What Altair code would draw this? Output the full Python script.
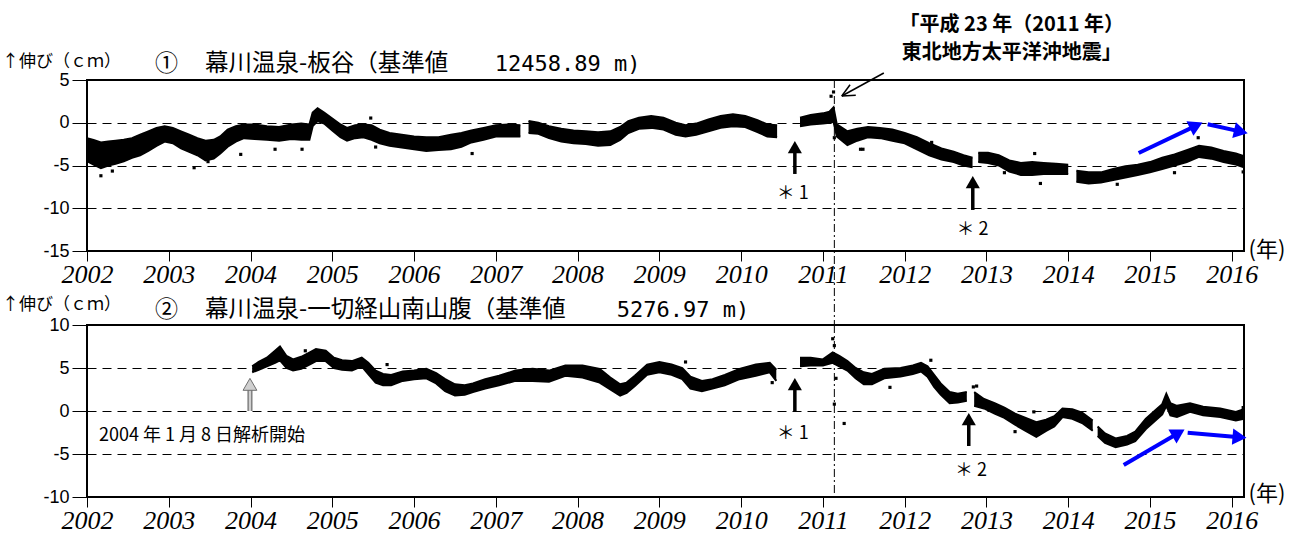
import altair as alt
import pandas as pd

# ---------------- panel 1 : 幕川温泉-板谷 (cm) ----------------
p1_t = [2002.00, 2002.08, 2002.17, 2002.26, 2002.35, 2002.45, 2002.55, 2002.65, 2002.75, 2002.85,
        2002.95, 2003.05, 2003.15, 2003.25, 2003.35, 2003.45, 2003.55, 2003.63, 2003.72, 2003.82,
        2003.92, 2004.05, 2004.20, 2004.35, 2004.50, 2004.62, 2004.72, 2004.76, 2004.82, 2004.90,
        2005.00, 2005.10, 2005.18, 2005.28, 2005.38, 2005.48, 2005.58, 2005.70, 2005.85, 2006.00,
        2006.15, 2006.30, 2006.45, 2006.58, 2006.70, 2006.85, 2007.00, 2007.15, 2007.30,
        2007.40, 2007.52, 2007.65, 2007.80, 2007.95, 2008.10, 2008.25, 2008.40, 2008.52, 2008.62,
        2008.75, 2008.90, 2009.05, 2009.20, 2009.32, 2009.45, 2009.60, 2009.75, 2009.90, 2010.05,
        2010.20, 2010.32, 2010.44,
        2010.72, 2010.85, 2011.00, 2011.08, 2011.13, 2011.17, 2011.30, 2011.42, 2011.55, 2011.70,
        2011.85, 2012.00, 2012.15, 2012.30, 2012.45, 2012.60, 2012.72, 2012.83,
        2012.90, 2013.02, 2013.15, 2013.28, 2013.42, 2013.56, 2013.70, 2013.85, 2014.00,
        2014.10, 2014.25, 2014.40, 2014.55, 2014.70, 2014.85, 2015.00, 2015.15, 2015.30, 2015.45,
        2015.60, 2015.75, 2015.90, 2016.05, 2016.15]
p1_hi = [-1.8, -2.0, -2.3, -2.2, -2.1, -2.0, -1.8, -1.4, -1.0, -0.6,
         -0.4, -0.6, -1.0, -1.4, -1.8, -2.1, -2.0, -1.6, -0.8, -0.4,
         -0.2, -0.2, -0.4, -0.5, -0.2, -0.1, -0.2, 1.2, 1.7, 1.2,
         0.5, -0.2, -0.6, -0.3, -0.2, -0.3, -0.8, -1.2, -1.4, -1.6,
         -1.7, -1.7, -1.4, -1.2, -0.9, -0.6, -0.3, -0.2, -0.3,
         0.2, 0.0, -0.4, -0.7, -0.9, -1.0, -1.1, -1.0, -0.5, 0.2,
         0.6, 0.8, 0.6, 0.0, -0.3, -0.1, 0.4, 0.8, 1.0, 0.8,
         0.3, -0.2, -0.3,
         0.6, 0.9, 1.1, 1.3, 1.8, -0.2, -1.0, -0.7, -0.5, -0.6,
         -0.8, -1.2, -1.7, -2.4, -3.0, -3.4, -3.8, -4.1,
         -3.5, -3.5, -3.8, -4.4, -4.7, -4.6, -4.7, -4.8, -4.9,
         -5.6, -5.8, -5.8, -5.4, -5.1, -4.9, -4.6, -4.1, -3.7, -3.2,
         -2.7, -2.9, -3.3, -3.6, -3.9]
p1_lo = [-4.5, -4.9, -5.3, -5.0, -4.8, -4.5, -4.1, -3.8, -3.3, -2.7,
         -2.2, -2.4, -3.0, -3.4, -3.8, -4.4, -4.2, -3.6, -2.8, -2.2,
         -1.8, -1.9, -2.0, -2.1, -1.9, -2.0, -2.0, -0.4, 0.2, -0.1,
         -0.9, -1.7, -2.1, -1.8, -1.7, -2.0, -2.4, -2.7, -2.9, -3.1,
         -3.3, -3.2, -3.1, -2.8, -2.3, -2.0, -1.6, -1.6, -1.6,
         -1.2, -1.3, -1.8, -2.2, -2.4, -2.5, -2.7, -2.6, -2.0, -1.2,
         -0.7, -0.6, -0.8, -1.4, -1.6, -1.4, -1.0, -0.6, -0.4, -0.5,
         -1.1, -1.6, -1.7,
         -0.4, -0.2, -0.1, 0.0, 0.1, -1.6, -2.6, -2.1, -1.7, -1.8,
         -2.1, -2.4, -3.1, -3.8, -4.3, -4.6, -5.0, -5.2,
         -4.6, -4.7, -5.0, -5.7, -6.1, -6.1, -6.0, -6.0, -6.0,
         -6.9, -7.1, -7.0, -6.7, -6.4, -6.1, -5.8, -5.4, -5.0, -4.6,
         -4.0, -4.2, -4.6, -4.9, -5.2]
p1_gaps = [2007.35, 2010.58, 2012.86, 2014.05]
p1_out_t = [2002.17, 2002.31, 2003.31, 2003.48, 2003.88, 2004.30, 2004.63, 2005.47, 2005.53,
            2006.71, 2011.10, 2011.13, 2011.14, 2011.49, 2011.46, 2012.33, 2013.22, 2013.66,
            2013.59, 2014.60, 2015.30, 2015.59, 2016.14]
p1_out_v = [-6.2, -5.65, -5.26, -4.55, -3.7, -3.1, -3.1, 0.55, -2.84,
            -3.6, 3.1, 3.6, -1.75, -3.1, -3.1, -2.3, -5.84, -7.1,
            -3.6, -7.2, -5.84, -1.75, -5.75]

# ---------------- panel 2 : 幕川温泉-一切経山南山腹 (cm) ----------------
p2_t = [2004.02, 2004.10, 2004.20, 2004.30, 2004.36, 2004.44, 2004.52, 2004.62, 2004.72, 2004.80,
        2004.92, 2005.02, 2005.12, 2005.24, 2005.36, 2005.44, 2005.53, 2005.62, 2005.72, 2005.86,
        2006.00, 2006.15, 2006.27, 2006.38, 2006.50, 2006.62, 2006.72, 2006.87, 2007.04, 2007.24,
        2007.45, 2007.65, 2007.85, 2008.06, 2008.27, 2008.40, 2008.52, 2008.60, 2008.70, 2008.85,
        2009.00, 2009.15, 2009.28, 2009.38, 2009.52, 2009.65, 2009.80, 2009.98, 2010.18, 2010.35,
        2010.43,
        2010.72, 2010.85, 2011.00, 2011.12, 2011.20, 2011.30, 2011.40, 2011.50, 2011.60, 2011.75,
        2011.95, 2012.10, 2012.20, 2012.28, 2012.36, 2012.44, 2012.55, 2012.65, 2012.76,
        2012.85, 2012.97, 2013.10, 2013.22, 2013.35, 2013.48, 2013.61, 2013.73, 2013.83, 2013.93,
        2014.05, 2014.17, 2014.30,
        2014.36, 2014.45, 2014.58, 2014.72, 2014.82, 2014.95, 2015.08, 2015.15, 2015.20, 2015.25,
        2015.33, 2015.49, 2015.65, 2015.86, 2016.05, 2016.15]
p2_hi = [5.2, 5.7, 6.2, 7.0, 7.5, 6.4, 6.0, 6.3, 6.8, 7.2,
         7.0, 6.2, 5.9, 5.8, 6.2, 5.6, 4.7, 4.3, 4.2, 4.6,
         4.7, 4.9, 4.4, 3.7, 3.1, 3.0, 3.2, 3.7, 4.1, 4.7,
         4.9, 4.7, 5.3, 5.3, 4.9, 3.9, 3.1, 3.3, 4.1, 5.4,
         5.7, 5.4, 5.0, 4.0, 3.5, 3.7, 4.2, 4.9, 5.4, 5.6,
         4.8,
         6.2, 6.2, 6.0, 6.8, 6.4, 5.8, 5.0, 4.5, 4.3, 4.9,
         5.0, 5.3, 5.6, 5.2, 4.2, 3.2, 2.2, 2.0, 2.2,
         2.2, 1.4, 0.9, 0.4, -0.3, -0.8, -1.3, -1.0, -0.6, 0.3,
         0.2, -0.2, -1.1,
         -1.8, -2.6, -3.2, -2.9, -2.4, -0.9, 0.2, 0.8, 2.0, 0.9,
         0.6, 0.9, 0.5, 0.3, -0.1, 0.2]
p2_lo = [4.5, 4.8, 5.2, 5.6, 5.9, 5.0, 4.7, 4.9, 5.4, 5.8,
         5.8, 5.0, 4.8, 4.7, 5.2, 4.3, 3.3, 3.0, 3.0, 3.5,
         3.7, 3.8, 3.2, 2.3, 1.8, 1.9, 2.2, 2.6, 3.0, 3.5,
         3.5, 3.4, 4.1, 3.9, 3.3, 2.5, 1.8, 2.1, 2.9, 4.2,
         4.5, 4.2, 3.7, 2.6, 2.3, 2.6, 3.0, 3.7, 4.1, 4.5,
         3.5,
         5.2, 5.3, 5.3, 5.6, 5.2, 4.7, 3.8, 3.1, 3.1, 3.8,
         4.0, 4.3, 4.6, 4.0, 2.8, 1.9, 0.9, 1.0, 1.2,
         0.6, 0.3, -0.3, -0.8, -1.6, -2.3, -3.0, -2.3, -1.8, -0.7,
         -0.9, -1.4, -2.3,
         -2.9, -3.7, -4.2, -3.9, -3.5, -2.1, -1.0, -0.4, 0.6, -0.5,
         -0.7, -0.1, -0.5, -0.7, -1.1, -0.9]
p2_gaps = [2010.58, 2012.80, 2014.33]
p2_out_t = [2004.67, 2005.67, 2009.32, 2010.38, 2011.12, 2011.14, 2011.16, 2011.14, 2011.26,
            2011.82, 2012.32, 2012.84, 2012.88, 2013.35, 2013.58, 2016.14]
p2_out_v = [7.0, 5.4, 5.7, 3.3, 8.4, 7.6, 3.8, 0.8, -1.45,
            2.75, 5.9, 2.8, 2.9, -2.4, -0.1, 0.4]

years = list(range(2002, 2017))
p1_ticks = [5, 0, -5, -10, -15]
p2_ticks = [10, 5, 0, -5, -10]
p1_domain = [-15, 5]
p2_domain = [-10, 10]
quake_t = 2011.14

JP = "Noto Sans CJK JP"
MONO = "DejaVu Sans Mono"
BLUE = "#0000ff"

XS = alt.Scale(domain=[2002, 2016.15], nice=False, zero=False)
XA = alt.Axis(values=years, format="d", title=None, labelFlush=False, grid=False, domain=False,
              tickSize=10, tickColor="black", tickWidth=1, labelFont="Liberation Serif",
              labelFontStyle="italic", labelFontSize=26, labelColor="black", labelPadding=0,
              labelOverlap=False)


def X(f):
    return alt.X(f, type="quantitative", scale=XS, axis=XA)


def Y(f, dom, ticks):
    return alt.Y(f, type="quantitative",
                 scale=alt.Scale(domain=dom, nice=False, zero=False),
                 axis=alt.Axis(values=ticks, title=None, grid=True, gridDash=[9, 6],
                               gridColor="black", gridWidth=1, gridOpacity=1, domain=False,
                               tickSize=15, tickColor="black", labelFont="Liberation Sans",
                               labelFontSize=18, labelColor="black", labelPadding=3,
                               labelFlush=False, labelOverlap=False,
                               labelExpr="'' + datum.value"))


def seg_of(t, gaps):
    return sum(1 for g in gaps if g < t)


def text_layer(xs, ys, labels, dom, ticks, size, align="left", weight="normal", font=JP):
    df = pd.DataFrame({"x": xs, "y": ys, "label": labels})
    return alt.Chart(df).mark_text(align=align, baseline="middle", font=font, fontSize=size,
                                   fontWeight=weight, color="black").encode(
        x=X("x"), y=Y("y", dom, ticks), text="label:N")


def up_arrows(xs, y0, y1, dom, ticks):
    df = pd.DataFrame({"x": xs, "y": y0, "y2": y1})
    shaft = alt.Chart(df).mark_rule(color="black", strokeWidth=3.5).encode(
        x=X("x"), y=Y("y", dom, ticks), y2="y2")
    head = alt.Chart(df).mark_point(shape="triangle-up", filled=True, size=200, color="black",
                                    opacity=1).encode(x=X("x"), y=Y("y2", dom, ticks))
    return [shaft, head]


def blue_arrows(x0, y0, x1, y1, ang, dom, ticks):
    df = pd.DataFrame({"x": x0, "y": y0, "x2": x1, "y2": y1, "ang": ang})
    shaft = alt.Chart(df).mark_rule(color=BLUE, strokeWidth=4).encode(
        x=X("x"), y=Y("y", dom, ticks), x2="x2", y2="y2")
    head = alt.Chart(df).mark_point(shape="triangle-up", filled=True, size=260, color=BLUE,
                                    opacity=1).encode(
        x=X("x2"), y=Y("y2", dom, ticks), angle=alt.Angle("ang:Q", scale=None))
    return [shaft, head]


def band_layers(t, hi, lo, gaps, out_t, out_v, dom, ticks):
    df = pd.DataFrame({"t": t, "hi": hi, "lo": lo})
    df["seg"] = [seg_of(v, gaps) for v in t]
    band = alt.Chart(df).mark_area(color="black", opacity=1, interpolate="linear").encode(
        x=X("t"), y=Y("hi", dom, ticks), y2="lo", detail="seg:N")
    edge = alt.Chart(df).mark_line(color="black", strokeWidth=2).encode(
        x=X("t"), y=Y("hi", dom, ticks), detail="seg:N")
    edge2 = alt.Chart(df).mark_line(color="black", strokeWidth=2).encode(
        x=X("t"), y=Y("lo", dom, ticks), detail="seg:N")
    odf = pd.DataFrame({"t": out_t, "v": out_v})
    outl = alt.Chart(odf).mark_square(color="black", size=10, opacity=1).encode(
        x=X("t"), y=Y("v", dom, ticks))
    return [band, edge, edge2, outl]


def titles(num, name, value, ylab, ytitle, xvalue, dom, ticks):
    return [
        text_layer([2000.96], [ylab], ["↑伸び（ｃｍ）"], dom, ticks, 17),
        text_layer([2002.831], [ytitle], [num], dom, ticks, 23),
        text_layer([2003.443], [ytitle], [name], dom, ticks, 23.5),
        text_layer([xvalue], [ytitle], [value], dom, ticks, 22, font=MONO),
    ]


# ---------------- top panel ----------------
d1, k1 = p1_domain, p1_ticks
top_layers = band_layers(p1_t, p1_hi, p1_lo, p1_gaps, p1_out_t, p1_out_v, d1, k1)
quake1 = alt.Chart(pd.DataFrame({"x": [quake_t], "y": [5], "y2": [-23.65]})).mark_rule(
    color="black", strokeWidth=1, strokeDash=[8, 3, 2, 3]).encode(
    x=X("x"), y=Y("y", d1, k1), y2="y2")
top_layers.append(quake1)
top_layers += up_arrows([2010.657, 2012.833], [-5.99, -10.2], [-2.85, -6.94], d1, k1)
top_layers.append(text_layer([2010.63, 2012.83], [-8.33, -12.54], ["＊ 1", "＊ 2"], d1, k1, 18,
                             align="center"))
pointer = pd.DataFrame({"x": [2011.745, 2011.231, 2011.231], "y": [5.82, 3.13, 3.13],
                        "x2": [2011.231, 2011.402, 2011.332], "y2": [3.13, 3.23, 4.45]})
top_layers.append(alt.Chart(pointer).mark_rule(color="black", strokeWidth=1.5).encode(
    x=X("x"), y=Y("y", d1, k1), x2="x2", y2="y2"))
top_layers.append(text_layer([2013.31, 2013.31], [11.45, 8.2],
                             ["「平成 23 年（2011 年）", "東北地方太平洋沖地震」"], d1, k1, 20,
                             align="center", weight="bold"))
top_layers += blue_arrows([2014.862, 2015.706], [-3.54, -0.18], [2015.566, 2016.112],
                          [-0.33, -1.04], [64.5, 103], d1, k1)
top_layers.append(text_layer([2016.206], [-14.88], ["(年)"], d1, k1, 22))
top_layers += titles("①", "幕川温泉-板谷（基準値", "12458.89 m)", 7.1, 6.87, 2006.988, d1, k1)
anchor = alt.Chart(pd.DataFrame({"a": [0]})).mark_rule(opacity=0, strokeWidth=0).encode(
    x=alt.value(-85), x2=alt.value(-84), y=alt.value(-79))
top_layers.append(anchor)
top = alt.layer(*top_layers).properties(width=1157, height=171)

# ---------------- bottom panel ----------------
d2, k2 = p2_domain, p2_ticks
bot_layers = band_layers(p2_t, p2_hi, p2_lo, p2_gaps, p2_out_t, p2_out_v, d2, k2)
quake2 = alt.Chart(pd.DataFrame({"x": [quake_t], "y": [10], "y2": [-10]})).mark_rule(
    color="black", strokeWidth=1, strokeDash=[8, 3, 2, 3]).encode(
    x=X("x"), y=Y("y", d2, k2), y2="y2")
bot_layers.append(quake2)
bot_layers += up_arrows([2010.657, 2012.784], [0.0, -4.07], [3.13, -0.94], d2, k2)
bot_layers.append(text_layer([2010.63, 2012.81], [-2.67, -6.98], ["＊ 1", "＊ 2"], d2, k2, 18,
                             align="center"))
gdf = pd.DataFrame({"x": [2003.993], "y": [0.0], "y2": [3.1]})
bot_layers.append(alt.Chart(gdf).mark_rule(color="#6e6e6e", strokeWidth=5).encode(
    x=X("x"), y=Y("y", d2, k2), y2="y2"))
bot_layers.append(alt.Chart(gdf).mark_rule(color="#d0d0d0", strokeWidth=2.5).encode(
    x=X("x"), y=Y("y", d2, k2), y2="y2"))
bot_layers.append(alt.Chart(gdf).mark_point(shape="triangle-up", filled=True, size=190,
                                            fill="#d0d0d0", stroke="#6e6e6e", strokeWidth=1,
                                            opacity=1).encode(
    x=X("x"), y=Y("y2", d2, k2)))
bot_layers.append(text_layer([2002.147], [-2.91], ["2004 年 1 月 8 日解析開始"], d2, k2, 18))
bot_layers += blue_arrows([2014.679, 2015.461], [-6.28, -2.52], [2015.349, 2016.095],
                          [-2.56, -3.05], [59.7, 95], d2, k2)
bot_layers.append(text_layer([2016.206], [-9.65], ["(年)"], d2, k2, 22))
bot_layers += titles("②", "幕川温泉-一切経山南山腹（基準値", "5276.97 m)", 12.3, 11.74,
                     2008.48, d2, k2)
bottom = alt.layer(*bot_layers).properties(width=1157, height=172)

chart = alt.vconcat(top, bottom, spacing=74, bounds="flush").properties(
    padding={"left": 0, "top": 0, "right": 4, "bottom": 0},
    background="white",
).configure_view(stroke="black", strokeWidth=2)

chart.save("out.html", embed_options={"renderer": "svg", "actions": False})
